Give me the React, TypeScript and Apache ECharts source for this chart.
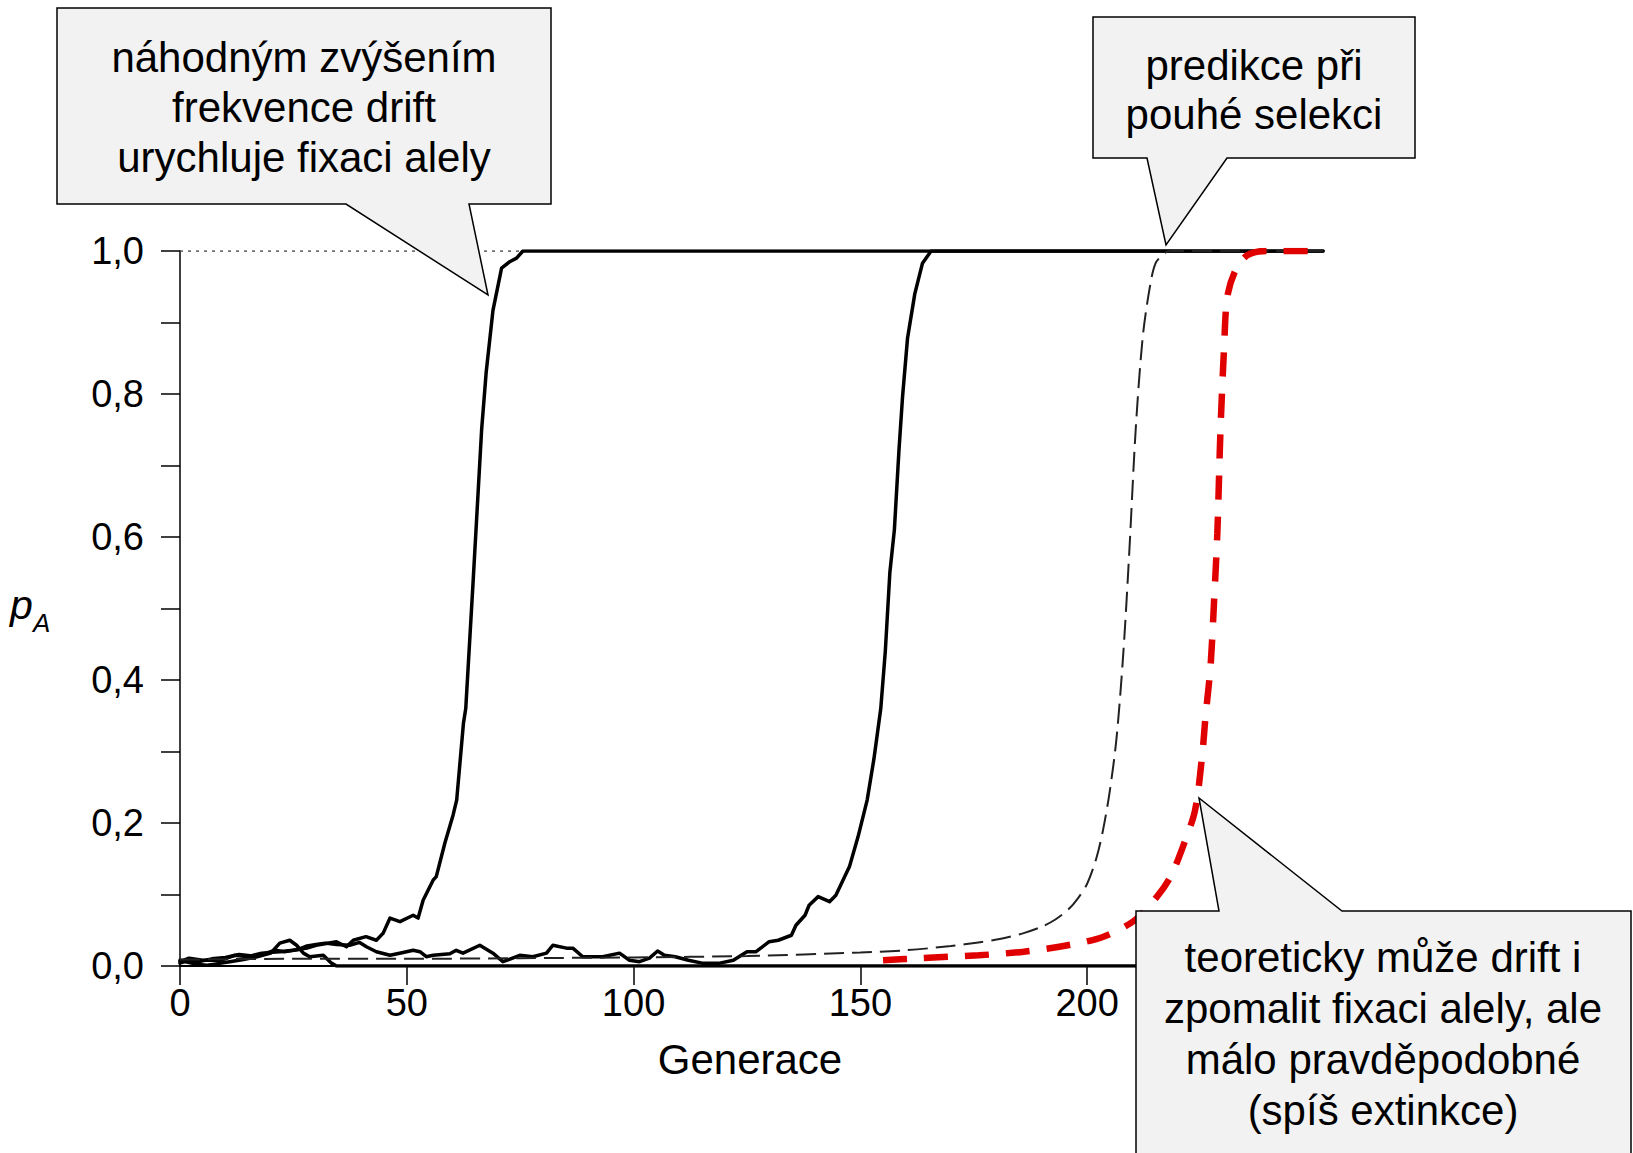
import React, { useEffect, useRef } from "react";
import * as echarts from "echarts";

// ---------- data (generation, allele frequency p_A) ----------
const xTickValues = [0, 50, 100, 150, 200];
const yLabelValues = [0, 0.2, 0.4, 0.6, 0.8, 1.0];

const refLineAtOne: [number, number][] = [
  [0, 1],
  [252, 1],
];

// drift trajectory that went extinct
const driftExtinct: [number, number][] = [
  [0, 0.008], [2, 0.005], [4, 0.002], [6, 0.001], [8, 0.003], [11, 0.006],
  [14, 0.009], [17, 0.013], [20, 0.018], [22, 0.032], [24.2, 0.036], [25.7, 0.029],
  [27.2, 0.018], [28.6, 0.013], [31.6, 0.015], [33.4, 0.004], [34.5, 0], [252, 0],
];

// drift trajectory with fast fixation
const driftFast: [number, number][] = [
  [0, 0.006], [2, 0.011], [5, 0.008], [9, 0.008], [12, 0.015], [15, 0.013], [18, 0.018],
  [22, 0.02], [25, 0.022], [28, 0.025], [30, 0.029], [34.5, 0.034], [36.7, 0.027],
  [38.2, 0.036], [41, 0.041], [43.3, 0.036], [44.8, 0.046], [46.3, 0.067], [48.5, 0.062],
  [51.4, 0.071], [52.5, 0.067], [53.6, 0.092], [55.8, 0.12], [56.5, 0.125], [58.4, 0.172],
  [60.2, 0.211], [61, 0.232], [62.5, 0.34], [63, 0.36], [64.6, 0.535], [66.5, 0.75],
  [67.5, 0.83], [69, 0.917], [70.9, 0.976], [72.7, 0.985], [74.2, 0.99], [75.6, 1.0],
  [252, 1.0],
];

// drift trajectory with later fixation
const driftSlow: [number, number][] = [
  [0, 0.004], [2, 0.008], [4, 0.006], [7, 0.01], [10, 0.012], [13, 0.016], [16, 0.014],
  [19, 0.018], [21, 0.022], [23, 0.02], [26, 0.023], [28, 0.028], [30, 0.03], [32, 0.032],
  [34.5, 0.03], [37.4, 0.029], [39.6, 0.033], [41.1, 0.027], [43.3, 0.02], [46.3, 0.015],
  [49.2, 0.019], [51.4, 0.022], [52.9, 0.02], [54.3, 0.013], [55.8, 0.015], [59.5, 0.017],
  [60.9, 0.022], [62.4, 0.018], [66.1, 0.029], [69, 0.018], [71.2, 0.006], [74.9, 0.015],
  [77.8, 0.013], [80.8, 0.018], [82.2, 0.029], [85.2, 0.025], [86.6, 0.025], [88.8, 0.013],
  [93.2, 0.013], [96.9, 0.018], [99.1, 0.008], [101.3, 0.006], [103.5, 0.011], [105.3, 0.021],
  [106.8, 0.015], [109.2, 0.013], [112.1, 0.008], [115.1, 0.004], [119, 0.004], [122, 0.008],
  [125, 0.02], [127, 0.02], [129.9, 0.034], [131.9, 0.036], [134.8, 0.043], [135.8, 0.057],
  [137.8, 0.071], [138.7, 0.085], [140.7, 0.097], [143.2, 0.09], [144.6, 0.099],
  [147.6, 0.139], [149.5, 0.181], [151.5, 0.232], [153, 0.29], [154.5, 0.36], [155.5, 0.44],
  [156.5, 0.55], [157.5, 0.61], [158.5, 0.72], [159.3, 0.796], [160.4, 0.878], [162, 0.94],
  [163.7, 0.983], [165.6, 1.0], [252, 1.0],
];

// deterministic prediction (selection only)
const selectionOnly: [number, number][] = [
  [0, 0.009], [25, 0.01], [50, 0.01], [75, 0.011], [100, 0.012], [125, 0.014], [150, 0.019],
  [160, 0.022], [170, 0.028], [176, 0.033], [181, 0.038], [186, 0.046], [190, 0.055],
  [193, 0.065], [196, 0.08], [198, 0.095], [200, 0.115], [202, 0.15], [203.5, 0.19],
  [205, 0.245], [206.5, 0.32], [208, 0.44], [209.3, 0.58], [210.7, 0.75], [212.2, 0.876],
  [213.7, 0.945], [215.1, 0.983], [217.3, 0.998], [218.5, 1.0], [252, 1.0],
];

// hypothetical slowed fixation (red)
const slowedFixation: [number, number][] = [
  [155, 0.008], [163.3, 0.011], [176.1, 0.015], [186, 0.02], [195.7, 0.029], [203.6, 0.041],
  [210.5, 0.064], [215.4, 0.097], [218.4, 0.125], [221.3, 0.17], [223.8, 0.218],
  [225.4, 0.297], [226.1, 0.349], [227.2, 0.419], [228, 0.512], [228.7, 0.605],
  [229.4, 0.75], [230.2, 0.866], [230.9, 0.936], [232.7, 0.973], [235.3, 0.994],
  [239.4, 1.0], [252, 1.0],
];

const callout1Text = "náhodným zvýšením\nfrekvence drift\nurychluje fixaci alely";
const callout2Text = "predikce při\npouhé selekci";
const callout3Text =
  "teoreticky může drift i\nzpomalit fixaci alely, ale\nmálo pravděpodobné\n(spíš extinkce)";
const xAxisTitle = "Generace";

const FONT = '"Liberation Sans", Arial, sans-serif';

export default function App() {
  const ref = useRef<HTMLDivElement>(null);

  useEffect(() => {
    if (!ref.current) return;
    const chart = echarts.init(ref.current, null, { renderer: "svg" });

    const blackLine = (data: [number, number][], z: number) => ({
      type: "line",
      data,
      symbol: "none",
      z,
      silent: true,
      lineStyle: { color: "#000", width: 3.5, join: "round", cap: "round" },
    });

    const calloutStyle = { fill: "#f2f2f2", stroke: "#000", lineWidth: 1.5 };
    const textStyle = (text: string, lh: number) => ({
      text,
      fill: "#000",
      fontSize: 42,
      fontFamily: FONT,
      align: "center",
      verticalAlign: "middle",
      lineHeight: lh,
    });

    chart.setOption({
      animation: false,
      backgroundColor: "#fff",
      grid: { left: 180, top: 251, right: 310, bottom: 187, containLabel: false },
      xAxis: {
        type: "value",
        min: 0,
        max: 252,
        interval: 50,
        splitLine: { show: false },
        axisLine: { show: true, onZero: false, lineStyle: { color: "#000", width: 2 } },
        axisTick: { show: true, inside: false, length: 19, lineStyle: { color: "#000", width: 1.5 } },
        axisLabel: {
          margin: 18,
          color: "#000",
          fontSize: 38,
          fontFamily: FONT,
          showMaxLabel: false,
          formatter: (v: number) => (xTickValues.includes(Math.round(v)) ? String(Math.round(v)) : ""),
        },
      },
      yAxis: {
        type: "value",
        min: 0,
        max: 1,
        interval: 0.1,
        splitLine: { show: false },
        axisLine: { show: true, onZero: false, lineStyle: { color: "#000", width: 1.5 } },
        axisTick: { show: true, inside: false, length: 19, lineStyle: { color: "#000", width: 1.5 } },
        axisLabel: {
          margin: 36,
          color: "#000",
          fontSize: 38,
          fontFamily: FONT,
          formatter: (v: number) => {
            const hit = yLabelValues.find((t) => Math.abs(t - v) < 1e-6);
            return hit === undefined ? "" : hit.toFixed(1).replace(".", ",");
          },
        },
      },
      series: [
        {
          type: "line",
          data: refLineAtOne,
          symbol: "none",
          z: 1,
          silent: true,
          lineStyle: { color: "#444", width: 1.5, type: [3, 5] },
        },
        blackLine(driftExtinct, 3),
        blackLine(driftSlow, 3),
        blackLine(driftFast, 3),
        {
          type: "line",
          data: selectionOnly,
          symbol: "none",
          smooth: 0.3,
          z: 4,
          silent: true,
          lineStyle: { color: "#222", width: 2, type: [20, 8] },
        },
        {
          type: "line",
          data: slowedFixation,
          symbol: "none",
          smooth: 0.3,
          z: 5,
          silent: true,
          lineStyle: { color: "#e00000", width: 6.5, type: [24, 17] },
        },
      ],
      graphic: [
        {
          type: "polygon",
          z: 100,
          shape: {
            points: [[57, 8], [551, 8], [551, 204], [469, 204], [488, 295], [346, 204], [57, 204]],
          },
          style: calloutStyle,
        },
        { type: "text", z: 101, x: 304, y: 107, style: textStyle(callout1Text, 50) },
        {
          type: "polygon",
          z: 100,
          shape: {
            points: [[1093, 17], [1415, 17], [1415, 158], [1227, 158], [1166, 245], [1147, 158], [1093, 158]],
          },
          style: calloutStyle,
        },
        { type: "text", z: 101, x: 1254, y: 90, style: textStyle(callout2Text, 49) },
        {
          type: "polygon",
          z: 100,
          shape: {
            points: [[1136, 911], [1219, 911], [1199, 798], [1342, 911], [1631, 911], [1631, 1170], [1136, 1170]],
          },
          style: calloutStyle,
        },
        { type: "text", z: 101, x: 1383, y: 1034, style: textStyle(callout3Text, 51) },
        {
          type: "text",
          z: 101,
          x: 750,
          y: 1059,
          style: {
            text: xAxisTitle,
            fill: "#000",
            fontSize: 42,
            fontFamily: FONT,
            align: "center",
            verticalAlign: "middle",
          },
        },
        {
          type: "text",
          z: 101,
          x: 10,
          y: 605,
          style: {
            text: "p",
            fill: "#000",
            fontSize: 41,
            fontStyle: "italic",
            fontFamily: FONT,
            align: "left",
            verticalAlign: "middle",
          },
        },
        {
          type: "text",
          z: 101,
          x: 33,
          y: 623,
          style: {
            text: "A",
            fill: "#000",
            fontSize: 26,
            fontStyle: "italic",
            fontFamily: FONT,
            align: "left",
            verticalAlign: "middle",
          },
        },
      ],
    });

    return () => chart.dispose();
  }, []);

  return (
    <div
      ref={ref}
      style={{ position: "fixed", left: 0, top: 0, width: 1633, height: 1153, background: "#fff" }}
    />
  );
}
